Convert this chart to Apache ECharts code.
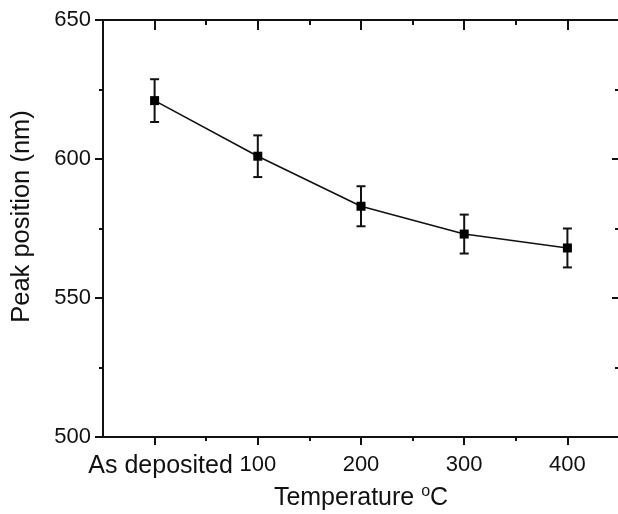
<!DOCTYPE html>
<html><head><meta charset="utf-8">
<script src="https://cdn.jsdelivr.net/npm/echarts@6/dist/echarts.min.js"></script>
<style>html,body{margin:0;padding:0;background:#fff;overflow:hidden}#c{width:626px;height:514px}</style>
</head><body><div id="c"></div>
<script>
const categories = ['As deposited', '100', '200', '300', '400'];
const temps = [0, 100, 200, 300, 400];
const peak = [621, 601, 583, 573, 568];
const err = [7.7, 7.5, 7.2, 7.0, 7.0];
const yTicks = [500, 550, 600, 650];
const yMinor = [525, 575, 625];
const xMinor = [50, 150, 250, 350];

const FONT = 'Liberation Sans, Arial, sans-serif';
const chart = echarts.init(document.getElementById('c'), null, {renderer: 'canvas'});
const lineStyle = {color: '#111', width: 2};
const hide = {show: false};
function xa(pos, ticks, len, inside, extra) {
  return Object.assign({
    type: 'value', position: pos, min: -50, max: 450, interval: 50,
    axisLine: {show: true, lineStyle: lineStyle, onZero: false},
    axisTick: {show: true, customValues: ticks, length: len, inside: inside, lineStyle: lineStyle},
    axisLabel: hide, splitLine: hide
  }, extra || {});
}
function ya(pos, ticks, len, inside, extra) {
  return Object.assign({
    type: 'value', position: pos, min: 500, max: 650, interval: 50,
    axisLine: {show: true, lineStyle: lineStyle, onZero: false},
    axisTick: {show: true, customValues: ticks, length: len, inside: inside, lineStyle: lineStyle},
    axisLabel: hide, splitLine: hide
  }, extra || {});
}
const option = {
  animation: false,
  backgroundColor: '#fff',
  textStyle: {fontFamily: FONT},
  grid: {left: 103, top: 20, width: 516, height: 417, containLabel: false, outerBoundsMode: 'none'},
  xAxis: [
    xa('bottom', temps, 8, false, {
      axisLabel: {show: true, customValues: temps, margin: 17, color: '#111', fontSize: 22, fontFamily: FONT,
        formatter: function (v) { const i = temps.indexOf(v); if (i === 0) return '{big|' + categories[0] + '}'; return i >= 0 ? categories[i] : ''; },
        rich: {big: {fontSize: 25, fontFamily: FONT, color: '#111', padding: [0, 0, 0, 12]}}},
      name: 'Temperature {sup|o}C', nameLocation: 'middle', nameGap: 44,
      nameTextStyle: {fontSize: 25, color: '#111', fontFamily: FONT,
        rich: {sup: {fontSize: 16, color: '#111', fontFamily: FONT, verticalAlign: 'top', padding: [0, 0, 12, 0]}}}
    }),
    xa('bottom', xMinor, 4, false),
    xa('top', temps, 10, true),
    xa('top', xMinor, 5, true)
  ],
  yAxis: [
    ya('left', yTicks, 8, false, {
      axisLabel: {show: true, customValues: yTicks, margin: 12, color: '#111', fontSize: 22, fontFamily: FONT},
      name: 'Peak position (nm)', nameLocation: 'middle', nameGap: 68, nameRotate: 90,
      nameTextStyle: {fontSize: 25.5, color: '#111', fontFamily: FONT, padding: [0, 0, 0, 24]}
    }),
    ya('left', yMinor, 4, false),
    ya('right', yTicks, 7, true),
    ya('right', yMinor, 4, true)
  ],
  series: [
    {
      type: 'custom', xAxisIndex: 0, yAxisIndex: 0, z: 3,
      data: temps.map((t, i) => [t, peak[i] - err[i], peak[i] + err[i]]),
      renderItem: function (params, api) {
        const lo = api.coord([api.value(0), api.value(1)]);
        const hi = api.coord([api.value(0), api.value(2)]);
        const w = 4.5;
        const st = {stroke: '#111', lineWidth: 2};
        return {type: 'group', children: [
          {type: 'line', shape: {x1: lo[0], y1: lo[1], x2: hi[0], y2: hi[1]}, style: st},
          {type: 'line', shape: {x1: lo[0] - w, y1: lo[1], x2: lo[0] + w, y2: lo[1]}, style: st},
          {type: 'line', shape: {x1: hi[0] - w, y1: hi[1], x2: hi[0] + w, y2: hi[1]}, style: st}
        ]};
      }
    },
    {
      type: 'line', xAxisIndex: 0, yAxisIndex: 0, z: 4,
      data: temps.map((t, i) => [t, peak[i]]),
      symbol: 'rect', symbolSize: 9, showSymbol: true,
      lineStyle: {color: '#111', width: 1.6},
      itemStyle: {color: '#000'}
    }
  ]
};
chart.setOption(option);
</script></body></html>
